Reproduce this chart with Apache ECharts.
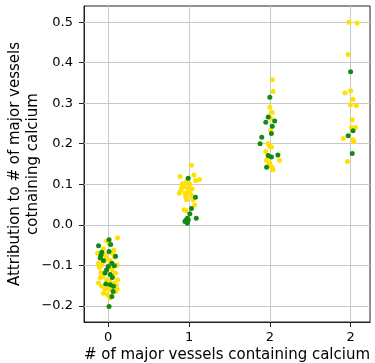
<!DOCTYPE html>
<html>
<head>
<meta charset="utf-8">
<script src="https://cdn.jsdelivr.net/npm/echarts@6/dist/echarts.min.js"></script>
<style>
  html, body { margin: 0; padding: 0; background: #fff; }
  #chart { width: 375px; height: 363px; }
</style>
</head>
<body>
<div id="chart"></div>
<script>
// tick labels of the four columns (the last one really reads "2")
const tickLabels = ['0', '1', '2', '2'];
const yTicks = [-0.2, -0.1, 0.0, 0.1, 0.2, 0.3, 0.4, 0.5];

// points per column: [jitter, attribution]
const yellow0 = [[0.115,-0.032],[-0.02,-0.04],[0.01,-0.047],[0.07,-0.062],[-0.13,-0.07],[-0.04,-0.074],
  [-0.02,-0.082],[0.02,-0.088],[-0.08,-0.099],[0.11,-0.099],[-0.11,-0.105],[0.045,-0.111],[-0.09,-0.118],
  [0.09,-0.119],[-0.07,-0.128],[0.115,-0.136],[-0.02,-0.136],[0.02,-0.14],[-0.12,-0.144],[0.07,-0.144],
  [-0.08,-0.152],[0.0,-0.156],[0.11,-0.159],[-0.04,-0.159],[-0.06,-0.169],[0.09,-0.165],[0.02,-0.181],
  [-0.05,-0.09],[0.06,-0.125],[-0.1,-0.13],[0.04,-0.16],[-0.03,-0.115],[0.08,-0.08],[-0.06,-0.06],
  [0.03,-0.1],[-0.12,-0.095],[0.1,-0.15],[-0.01,-0.172],[0.05,-0.07]];
const green0 = [[0.01,-0.037],[-0.12,-0.052],[0.03,-0.049],[-0.08,-0.068],[0.01,-0.066],[0.09,-0.078],
  [-0.1,-0.082],[-0.06,-0.088],[0.045,-0.095],[0.075,-0.101],[0.0,-0.103],[-0.02,-0.111],[-0.04,-0.119],
  [0.025,-0.123],[-0.03,-0.146],[0.025,-0.148],[0.065,-0.152],[0.06,-0.165],[0.045,-0.177],[0.01,-0.202],
  [-0.09,-0.075],[0.05,-0.13]];
const yellow1 = [[0.03,0.147],[0.06,0.123],[-0.11,0.119],[0.13,0.112],[0.08,0.109],[-0.03,0.107],
  [-0.08,0.101],[0.01,0.1],[-0.06,0.095],[-0.02,0.09],[-0.1,0.086],[0.0,0.082],[-0.05,0.078],[0.01,0.077],
  [-0.04,0.07],[0.03,0.072],[0.05,0.062],[-0.03,0.062],[0.07,0.049],[-0.06,0.037],[-0.04,0.035],
  [-0.09,0.092],[0.04,0.088],[-0.12,0.078]];
const green1 = [[-0.01,0.115],[0.08,0.068],[0.03,0.04],[0.01,0.027],[0.09,0.016],[-0.02,0.016],
  [-0.04,0.011],[-0.01,0.012],[-0.02,0.004],[-0.05,0.008]];
const yellow2 = [[0.03,0.358],[0.04,0.329],[0.0,0.29],[0.02,0.277],[0.03,0.277],[0.01,0.263],[0.01,0.233],
  [-0.02,0.2],[0.0,0.193],[0.02,0.192],[-0.05,0.181],[-0.02,0.167],[0.12,0.159],[-0.04,0.159],[0.0,0.152],
  [-0.01,0.15],[0.02,0.143],[0.04,0.136],[0.03,0.141]];
const green2 = [[0.0,0.315],[-0.02,0.266],[0.06,0.256],[-0.05,0.253],[0.03,0.243],[0.02,0.225],
  [-0.1,0.216],[-0.12,0.2],[-0.02,0.171],[0.1,0.172],[0.02,0.167],[-0.04,0.142]];
const yellow3 = [[-0.02,0.5],[0.08,0.498],[-0.03,0.42],[0.0,0.331],[-0.07,0.325],[0.03,0.31],[0.0,0.296],
  [0.07,0.294],[0.02,0.259],[0.01,0.24],[0.06,0.24],[-0.09,0.213],[0.03,0.21],[0.04,0.205],[-0.04,0.156]];
const green3 = [[0.0,0.378],[0.03,0.232],[-0.03,0.22],[0.02,0.176]];

const toData = (cols) => {
  let out = [];
  cols.forEach((pts, col) => {
    pts.forEach((p) => out.push([col + p[0], p[1]]));
  });
  return out;
};

const font = 'DejaVu Sans';
const gridColor = '#c8c8c8';

let chart = echarts.init(document.getElementById('chart'));
chart.setOption({
  animation: false,
  grid: {
    left: 84, right: 5, top: 6, bottom: 41,
    containLabel: false,
    outerBoundsMode: 'none',
    show: true, borderColor: '#222', borderWidth: 1
  },
  xAxis: {
    type: 'value',
    min: -0.3, max: 3.24,
    name: '# of major vessels containing calcium',
    nameLocation: 'middle',
    nameGap: 26,
    nameMoveOverlap: false,
    nameTextStyle: { fontFamily: font, fontSize: 15, color: '#000' },
    axisLine: { show: true, onZero: false, lineStyle: { color: '#222' } },
    axisTick: { show: true, length: 5, customValues: [0, 1, 2, 3], lineStyle: { color: '#222' } },
    axisLabel: {
      customValues: [0, 1, 2, 3],
      formatter: (v) => tickLabels[Math.round(v)],
      margin: 9, fontFamily: font, fontSize: 13, color: '#000'
    },
    splitLine: { show: false }
  },
  yAxis: {
    type: 'value',
    min: -0.24, max: 0.54,
    name: 'Attribution to # of major vessels\ncotnaining calcium',
    nameLocation: 'middle',
    nameRotate: 90,
    nameGap: 42,
    nameMoveOverlap: false,
    nameTextStyle: { fontFamily: font, fontSize: 15, color: '#000', lineHeight: 18 },
    axisLine: { show: true, onZero: false, lineStyle: { color: '#222' } },
    axisTick: { show: true, length: 5, customValues: yTicks, lineStyle: { color: '#222' } },
    axisLabel: {
      customValues: yTicks,
      formatter: (v) => v.toFixed(1).replace('-', '\u2212'),
      margin: 11, fontFamily: font, fontSize: 13, color: '#000'
    },
    splitLine: { show: false }
  },
  series: [
    {
      // grid lines
      type: 'scatter',
      data: [],
      zlevel: 0,
      markLine: {
        silent: true,
        symbol: ['none', 'none'],
        label: { show: false },
        lineStyle: { color: gridColor, width: 1, type: 'solid' },
        data: [0, 1, 2, 3].map((v) => ({ xAxis: v }))
          .concat(yTicks.map((v) => ({ yAxis: v })))
      }
    },
    {
      name: 'yellow',
      type: 'scatter',
      zlevel: 1,
      z: 2,
      symbolSize: 5,
      itemStyle: { color: '#ffe000', opacity: 1 },
      data: toData([yellow0, yellow1, yellow2, yellow3])
    },
    {
      name: 'green',
      type: 'scatter',
      zlevel: 1,
      z: 3,
      symbolSize: 5,
      itemStyle: { color: '#138a13', opacity: 1 },
      data: toData([green0, green1, green2, green3])
    }
  ]
});
</script>
</body>
</html>
